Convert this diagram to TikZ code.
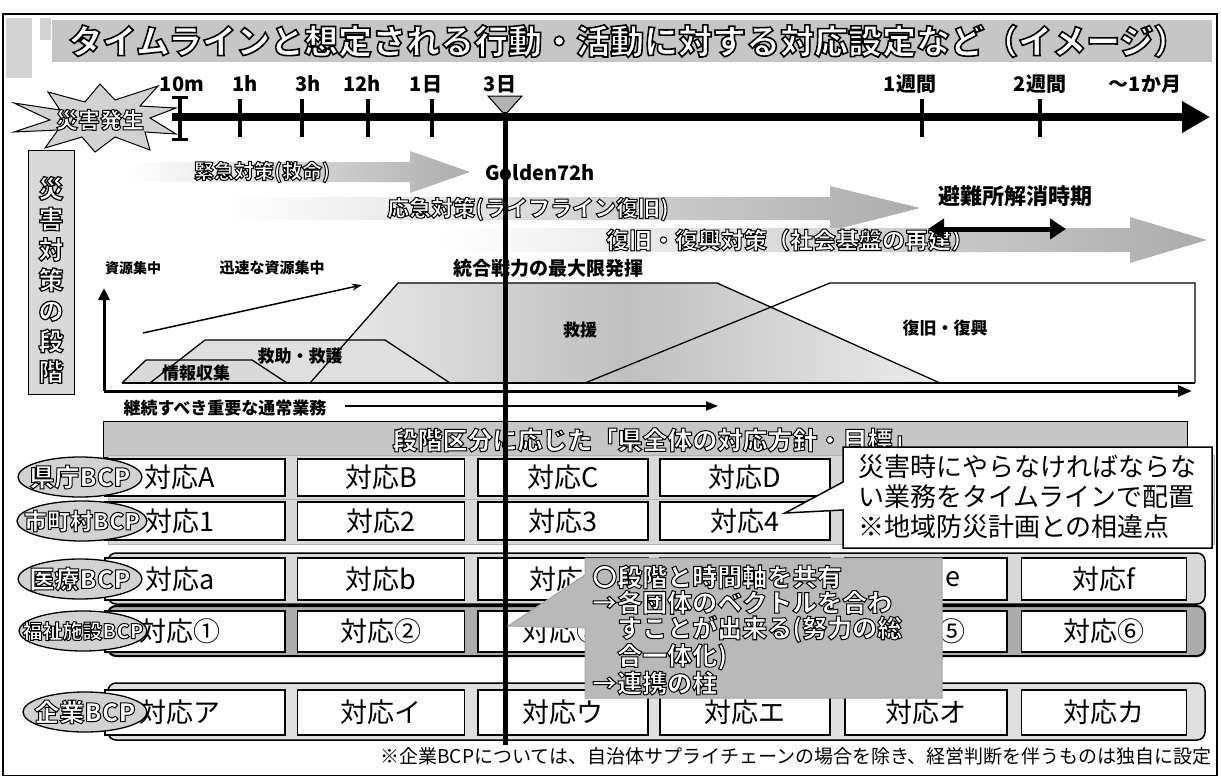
\documentclass[tikz,border=0pt]{standalone}
\usepackage{fontspec}
\setmainfont{Noto Sans CJK JP}
\usetikzlibrary{arrows.meta,shapes.geometric}
\newcommand\fsz[1]{\fontsize{#1}{#1}\selectfont}
% outlined text: white fill, black stroke (PDF text render mode 2)
\newcommand\olt[2][1.0]{{\color{white}\special{pdf:literal direct 0 0 0 RG 2 Tr #1 w}#2\special{pdf:literal direct 0 Tr}}}
\begin{document}
\begin{tikzpicture}[x=1pt,y=-1pt,
  every node/.style={inner sep=0pt},
  tlab/.style={font=\bfseries\fsz{20}},
  tickline/.style={line width=4pt},
  rowbox/.style={draw,line width=1.3pt,fill=white},
  rowtxt/.style={font=\fsz{27}},
  bcp/.style={ellipse,draw,line width=1.3pt,fill=gray!35,minimum width=124pt,minimum height=40pt},
  chartlab/.style={font=\bfseries\fsz{17}},
  phasearrow/.style={left color=white,right color=gray!65},
]
\useasboundingbox (0,0) rectangle (1221,776);
\fill[white] (0,0) rectangle (1221,776);
\draw[line width=2pt] (3,14) rectangle (1217,776);

% title
\fill[gray!35] (6,18) rectangle (32,78);
\fill[gray!35] (40,18) rectangle (51,40);
\node[fill=gray!45,minimum width=1160pt,minimum height=42pt,anchor=north west] (titlebar) at (52,20) {};
\node[font=\bfseries\fsz{34}] (title) at (628,41) {\olt[1.6]{タイムラインと想定される行動・活動に対する対応設定など（イメージ）}};

% timeline
\coordinate (tlS) at (172,117);
\coordinate (tlE) at (1210,117);
\draw[line width=8pt,-{Triangle[length=28pt,width=30pt]}] (tlS) -- (tlE);
\foreach \x in {240,302,368,432,922,1040} \draw[tickline] (\x,99) -- (\x,137);
\draw[tickline] (180,97) -- (180,139);
\draw[line width=3pt] (172,97) -- (188,97) (172,139) -- (188,139);
\node[tlab] (l10m) at (182,84) {10m};
\node[tlab] (l1h) at (245,84) {1h};
\node[tlab] (l3h) at (308,84) {3h};
\node[tlab] (l12h) at (362,84) {12h};
\node[tlab] (l1d) at (426,84) {1日};
\node[tlab] (l3d) at (500,84) {3日};
\node[tlab] (l1w) at (910,84) {1週間};
\node[tlab] (l2w) at (1040,84) {2週間};
\node[tlab] (l1m) at (1145,84) {〜1か月};
\filldraw[fill=gray!35,line width=1pt] (14,103) -- (60,110) -- (48,92) -- (85,102) -- (100,84) -- (115,100) -- (158,86) -- (140,106) -- (176,108) -- (150,118) -- (176,134) -- (145,132) -- (150,150) -- (115,137) -- (95,152) -- (82,137) -- (45,148) -- (58,130) -- (14,132) -- (50,120) -- cycle;
\node[font=\bfseries\fsz{22}] (hassei) at (100,120) {\olt{災害発生}};
\filldraw[fill=gray!60,line width=1pt] (488,96) -- (522,96) -- (505,115) -- cycle;
\coordinate (d3top) at (505,112);
\coordinate (d3bot) at (505,745);

% stage box
\node[draw,line width=1.2pt,fill=gray!30,minimum width=46pt,minimum height=244pt,anchor=north west] (stagebox) at (28,150) {};
\node[font=\bfseries\fontsize{25}{30.5}\selectfont,align=center] (stagetxt) at (51,280) {\olt[1.2]{災}\\\olt[1.2]{害}\\\olt[1.2]{対}\\\olt[1.2]{策}\\\olt[1.2]{の}\\\olt[1.2]{段}\\\olt[1.2]{階}};

% phase arrows
\shade[phasearrow] (130,162) -- (410,162) -- (410,151) -- (470,172) -- (410,193) -- (410,182) -- (130,182) -- cycle;
\node[font=\bfseries\fsz{20}] (kinkyu) at (262,172) {\olt{緊急対策(救命)}};
\node[font=\bfseries\fsz{20}] (golden) at (540,173) {Golden72h};
\shade[phasearrow] (225,197) -- (830,197) -- (830,186) -- (920,208) -- (830,231) -- (830,220) -- (225,220) -- cycle;
\node[font=\bfseries\fsz{22}] (oukyu) at (528,209) {\olt{応急対策(ライフライン復旧)}};
\shade[phasearrow] (440,228) -- (1130,228) -- (1130,217) -- (1207,240) -- (1130,263) -- (1130,252) -- (440,252) -- cycle;
\node[font=\bfseries\fsz{23}] (fukkyu) at (790,240) {\olt{復旧・復興対策（社会基盤の再建）}};
\node[font=\bfseries\fsz{22}] (hinan) at (1015,196) {避難所解消時期};
\coordinate (hinanL) at (928,229);
\coordinate (hinanR) at (1066,229);
\draw[line width=5pt,{Triangle[length=16pt,width=20pt]}-{Triangle[length=16pt,width=20pt]}] (hinanL) -- (hinanR);

% chart
\node[font=\bfseries\fsz{14}] (shigen) at (133,268) {資源集中};
\node[font=\bfseries\fsz{15}] (jinsoku) at (272,268) {迅速な資源集中};
\node[font=\bfseries\fsz{19}] (tougou) at (548,268) {統合戦力の最大限発揮};
\fill[white] (585,383) -- (830,283) -- (1195,283) -- (1195,383) -- cycle;
\shade[left color=gray!15,right color=gray!15,middle color=gray!50] (310,383) -- (398,283) -- (717,283) -- (940,383) -- cycle;
\fill[gray!25] (150,383) -- (205,340) -- (385,340) -- (450,383) -- cycle;
\fill[gray!30] (122,383) -- (146,360) -- (252,360) -- (287,383) -- cycle;
\draw[line width=1.3pt] (310,383) -- (398,283) -- (717,283) -- (940,383);
\draw[line width=1.3pt] (150,383) -- (205,340) -- (385,340) -- (450,383);
\draw[line width=1.3pt] (122,383) -- (146,360) -- (252,360) -- (287,383);
\draw[line width=1.3pt] (585,383) -- (830,283) -- (1195,283) -- (1195,383);
\draw[line width=1.3pt] (122,383) -- (1195,383);
\node[chartlab] (joho) at (196,373) {情報収集};
\node[chartlab] (kyujo) at (300,356) {救助・救護};
\node[chartlab] (kyuen) at (580,330) {救援};
\node[chartlab] (fukko) at (945,328) {復旧・復興};
\coordinate (ax0) at (104,391);
\coordinate (axY) at (104,288);
\coordinate (axX) at (1192,391);
\draw[line width=3pt,-{Triangle[length=12pt,width=11pt]}] (ax0) -- (axY);
\draw[line width=3pt,-{Triangle[length=14pt,width=11pt]}] (ax0) -- (axX);
\coordinate (rs1) at (143,333);
\coordinate (rs2) at (362,285);
\draw[line width=1.5pt,-{Stealth[length=10pt,width=7pt]}] (rs1) -- (rs2);

% continuing work
\node[font=\bfseries\fsz{17}] (keizoku) at (225,408) {継続すべき重要な通常業務};
\coordinate (keiS) at (345,406);
\coordinate (keiE) at (718,406);
\draw[line width=2pt,-{Triangle[length=12pt,width=9pt]}] (keiS) -- (keiE);

% banner
\node[draw,line width=1.2pt,fill=gray!45,minimum width=1084pt,minimum height=36pt,anchor=north west] (banner) at (103,421) {};
\node[font=\bfseries\fsz{25}] (bannertxt) at (655,440) {\olt{段階区分に応じた「県全体の対応方針・目標」}};

% row backings
\filldraw[fill=gray!30,draw=gray!60] (108,455) rectangle (1214,499);
\filldraw[fill=gray!30,draw=gray!60] (108,499) rectangle (1214,544);
\filldraw[fill=gray!30,draw=black,line width=1.5pt,rounded corners=8pt] (108,553) rectangle (1205,604);
\filldraw[fill=gray!65,draw=black,line width=2pt,rounded corners=8pt] (108,606) rectangle (1205,656);
\filldraw[fill=gray!25,draw=black,line width=1.5pt,rounded corners=8pt] (108,683) rectangle (1205,740);

% row 県庁
\node[rowbox,minimum width=180pt,minimum height=37pt] (kA) at (195,477.5) {};
\node[rowtxt] (kAt) at (180,477.5) {対応A};
\node[rowbox,rowtxt,minimum width=167pt,minimum height=37pt] (kB) at (381,477.5) {対応B};
\node[rowbox,rowtxt,minimum width=170pt,minimum height=37pt] (kC) at (563,477.5) {対応C};
\node[rowbox,rowtxt,minimum width=170pt,minimum height=37pt] (kD) at (745,477.5) {対応D};
\node[bcp] (kencho) at (80,477) {};
\node[font=\bfseries\fsz{25}] (kenchot) at (80,477) {\olt{県庁BCP}};
% row 市町村
\node[rowbox,minimum width=180pt,minimum height=38pt] (s1) at (195,521) {};
\node[rowtxt] (s1t) at (180,521) {対応1};
\node[rowbox,rowtxt,minimum width=167pt,minimum height=38pt] (s2) at (381,521) {対応2};
\node[rowbox,rowtxt,minimum width=170pt,minimum height=38pt] (s3) at (563,521) {対応3};
\node[rowbox,rowtxt,minimum width=170pt,minimum height=38pt] (s4) at (745,521) {対応4};
\node[bcp,minimum width=130pt] (shicho) at (82,521) {};
\node[font=\bfseries\fsz{23}] (shichot) at (82,521) {\olt{市町村BCP}};
% row 医療
\node[rowbox,minimum width=180pt,minimum height=42pt] (ia) at (195,579) {};
\node[rowtxt] (iat) at (180,579) {対応a};
\node[rowbox,rowtxt,minimum width=167pt,minimum height=42pt] (ib) at (381,579) {対応b};
\node[rowbox,rowtxt,minimum width=170pt,minimum height=42pt] (ic) at (563,579) {対応c};
\node[rowbox,minimum width=170pt,minimum height=42pt] (id) at (745,579) {};
\node[rowbox,minimum width=162pt,minimum height=42pt] (ie) at (926,579) {};
\node[rowtxt,anchor=east] (iet) at (961,579) {e};
\node[rowbox,rowtxt,minimum width=165pt,minimum height=42pt] (if) at (1104,579) {対応f};
\node[bcp] (iryo) at (80,579) {};
\node[font=\bfseries\fsz{25}] (iryot) at (80,579) {\olt{医療BCP}};
% row 福祉
\node[rowbox,minimum width=180pt,minimum height=41pt] (f1) at (195,631.5) {};
\node[rowtxt] (f1t) at (180,631.5) {対応①};
\node[rowbox,rowtxt,minimum width=167pt,minimum height=41pt] (f2) at (381,631.5) {対応②};
\node[rowbox,rowtxt,minimum width=170pt,minimum height=41pt] (f3) at (563,631.5) {対応③};
\node[rowbox,minimum width=170pt,minimum height=41pt] (f4) at (745,631.5) {};
\node[rowbox,minimum width=162pt,minimum height=41pt] (f5) at (926,631.5) {};
\node[rowtxt,anchor=east] (f5t) at (966,631.5) {⑤};
\node[rowbox,rowtxt,minimum width=165pt,minimum height=41pt] (f6) at (1104,631.5) {対応⑥};
\node[bcp,minimum width=128pt] (fukushi) at (83,631) {};
\node[font=\bfseries\fsz{20}] (fukushit) at (83,631) {\olt{福祉施設BCP}};
% row 企業
\node[rowbox,minimum width=180pt,minimum height=45pt] (ka) at (195,712.5) {};
\node[rowtxt] (kat) at (180,712.5) {対応ア};
\node[rowbox,rowtxt,minimum width=167pt,minimum height=45pt] (ki) at (381,712.5) {対応イ};
\node[rowbox,rowtxt,minimum width=170pt,minimum height=45pt] (ku) at (563,712.5) {対応ウ};
\node[rowbox,rowtxt,minimum width=170pt,minimum height=45pt] (ke) at (745,712.5) {対応エ};
\node[rowbox,rowtxt,minimum width=162pt,minimum height=45pt] (ko) at (926,712.5) {対応オ};
\node[rowbox,rowtxt,minimum width=165pt,minimum height=45pt] (kk) at (1104,712.5) {対応カ};
\node[bcp] (kigyo) at (85,712) {};
\node[font=\bfseries\fsz{25}] (kigyot) at (85,712) {\olt{企業BCP}};

% callout 1
\filldraw[fill=white,line width=1.5pt] (843,447) -- (1212,447) -- (1212,548) -- (843,548) -- (843,510) -- (785,513) -- (843,482) -- cycle;
\node[font=\fontsize{26}{30}\selectfont,align=left] (c1txt) at (1027,497) {災害時にやらなければならな\\い業務をタイムラインで配置\\※地域防災計画との相違点};

% 3-day line
\draw[line width=5pt] (d3top) -- (d3bot);

% callout 2
\filldraw[fill=gray!55,draw=gray!70,line width=1pt] (585,558) -- (942,558) -- (942,698) -- (585,698) -- (585,628) -- (508,626) -- (585,575) -- cycle;
\node[font=\bfseries\fontsize{25}{25.5}\selectfont,align=left,anchor=west] (c2txt) at (592,630) {\olt{〇段階と時間軸を共有}\\\olt{→各団体のベクトルを合わ}\\\phantom{→}\olt{すことが出来る(努力の総}\\\phantom{→}\olt{合一体化)}\\\olt{→連携の柱}};

% footnote
\node[anchor=east,font=\fsz{19}] (note) at (1212,756) {※企業BCPについては、自治体サプライチェーンの場合を除き、経営判断を伴うものは独自に設定};
\end{tikzpicture}
\end{document}
